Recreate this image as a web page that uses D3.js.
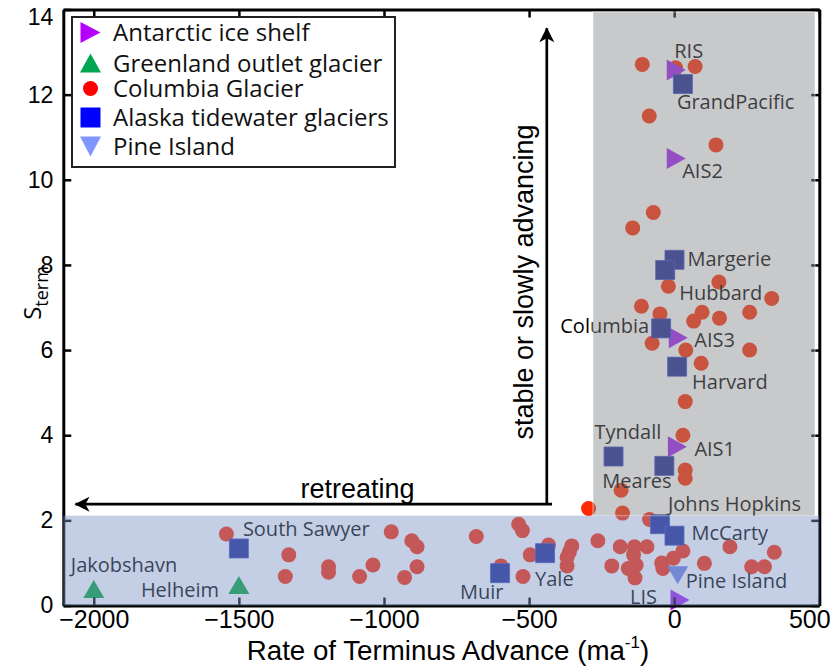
<!DOCTYPE html>
<html>
<head>
<meta charset="utf-8">
<script src="https://cdn.jsdelivr.net/npm/d3@7"></script>
<style>
  body { margin: 0; background: #fff; }
  svg { display: block; }
</style>
</head>
<body>
<svg id="chart" width="833" height="671"></svg>
<script>
"use strict";

//---------------------------- DATA ----------------------------//
// Columbia Glacier (rate of terminus advance m/a, S_term)
const columbiaRate = [-110, 5, 72, -86, 144, -72, -143, 154, -20, 336, -113, 96, 260, -49, 156, 67, -76, 40, 260, 93,
  38, 30, 38, 38, -183, -178, -85, -295, -536, -523, -682, -263, -186, -137, -94, -353, -361, -369, -369, -433,
  -496, 30, 192, 345, -140, -3, -43, 104, -215, -158, -131, -39, 267, 311, -597, -521, -135, -1543, -1328, -1340,
  -1191, -1191, -1084, -1038, -975, -904, -886, -886, -929];
const columbiaS = [12.71, 12.63, 12.66, 11.5, 10.82, 9.23, 8.87, 7.6, 7.5, 7.21, 7.03, 6.89, 6.89, 6.85, 6.75, 6.68, 6.16, 6.0, 6.0, 5.69,
  4.79, 4.0, 3.18, 2.99, 2.71, 2.17, 2.02, 2.28, 1.91, 1.76, 1.62, 1.52, 1.38, 1.38, 1.38, 1.40, 1.26, 1.13, 0.93, 1.42,
  1.19, 1.28, 1.38, 1.25, 1.19, 1.11, 1.0, 0.99, 0.93, 0.87, 0.95, 0.87, 0.91, 0.91, 0.93, 0.68, 0.65, 1.68, 1.19, 0.68,
  0.91, 0.78, 0.68, 0.95, 1.73, 1.52, 1.38, 0.91, 0.66];

const alaskaNames = ["GrandPacific", "Margerie", "Hubbard", "Columbia", "Harvard", "Tyndall", "Meares",
  "Johns Hopkins", "McCarty", "Yale", "Muir", "South Sawyer"];
const alaskaRate = [30, 1, -31, -45, 10, -209, -34, -49, 1, -445, -600, -1500];
const alaskaS = [12.25, 8.12, 7.88, 6.51, 5.61, 3.5, 3.28, 1.91, 1.64, 1.23, 0.76, 1.34];

const antarcticNames = ["RIS", "AIS2", "AIS3", "AIS1", "LIS"];
const antarcticRate = [7, 7, 14, 11, 20];
const antarcticS = [12.58, 10.5, 6.29, 3.73, 0.13];

const greenlandNames = ["Jakobshavn", "Helheim"];
const greenlandRate = [-2000, -1500];
const greenlandS = [0.39, 0.48];

const pineNames = ["Pine Island"];
const pineRate = [12];
const pineS = [0.71];

const legendLabels = ["Antarctic ice shelf", "Greenland outlet glacier", "Columbia Glacier",
  "Alaska tidewater glaciers", "Pine Island"];

const xTicks = [-2000, -1500, -1000, -500, 0, 500];
const yTicks = [0, 2, 4, 6, 8, 10, 12, 14];

// shaded zones (data units)
const stableZoneRate = [-280, 485];
const stableZoneS = [2.11, 13.94];
const slowZoneRate = [-2105, 500];
const slowZoneS = [0, 2.11];

// annotation arrows (data units): [x1, y1, x2(tip), y2(tip)]
const retreatArrow = [-421, 2.38, -2063, 2.38];
const stableArrow = [-439, 2.38, -439, 13.56];

//--------------------------- LAYOUT ---------------------------//
const svg = d3.select("#chart");
const mLeft = 63.3, mRight = 819.3, mTop = 9.5, mBottom = 605.5;

const x = d3.scaleLinear().domain([-2105, 500]).range([mLeft, mRight]);
const y = d3.scaleLinear().domain([0, 14]).range([mBottom, mTop]);

const col = {
  antarctic: "#a020f0",
  antarcticLegend: "#b400ff",
  greenland: "#00a53c",
  greenlandLegend: "#00a651",
  columbia: "#ff2800",
  columbiaLegend: "#ff0000",
  alaska: "#1a2794",
  alaskaLegend: "#0000ff",
  pine: "#6e82e6",
  pineLegend: "#8096ff"
};
const shadeOpacity = 0.45;

// label offsets from marker centre, px: [dx, baseline dy, anchor]
const labelOffsets = {
  "RIS": [-2, -12, "start"],
  "GrandPacific": [-6, 25, "start"],
  "AIS2": [6, 19, "start"],
  "Margerie": [13, 6, "start"],
  "Hubbard": [14, 30, "start"],
  "Columbia": [-12, 5, "end"],
  "AIS3": [16, 9, "start"],
  "Harvard": [15, 22, "start"],
  "Tyndall": [-19, -18, "start"],
  "AIS1": [17, 9, "start"],
  "Meares": [-62, 22, "start"],
  "Johns Hopkins": [8, -13, "start"],
  "McCarty": [17, 4, "start"],
  "Pine Island": [8, 13, "start"],
  "LIS": [-50, 4, "start"],
  "Yale": [-10, 33, "start"],
  "Muir": [-40, 26, "start"],
  "South Sawyer": [4, -12, "start"],
  "Jakobshavn": [-23, -17, "start"],
  "Helheim": [-98, 12, "start"]
};

// triangle path centred on its bounding box
const tri = (dir, w, h) => {
  const a = w / 2, b = h / 2;
  if (dir === "right") return `M${-a},${-b}L${a},0L${-a},${b}Z`;
  if (dir === "up") return `M${-a},${b}L0,${-b}L${a},${b}Z`;
  return `M${-a},${-b}L${a},${-b}L0,${b}Z`;
};
const sq = s => `M${-s / 2},${-s / 2}h${s}v${s}h${-s}Z`;

//--------------------------- MARKERS --------------------------//
const marks = svg.append("g");

marks.selectAll("circle.col")
  .data(d3.range(columbiaRate.length))
  .join("circle")
  .attr("class", "col")
  .attr("cx", i => x(columbiaRate[i]))
  .attr("cy", i => y(columbiaS[i]))
  .attr("r", 7.5)
  .attr("fill", col.columbia);

marks.selectAll("path.ant")
  .data(d3.range(antarcticRate.length))
  .join("path")
  .attr("class", "ant")
  .attr("transform", i => `translate(${x(antarcticRate[i])},${y(antarcticS[i])})`)
  .attr("d", tri("right", 19, 21))
  .attr("fill", col.antarctic);

marks.selectAll("path.ak")
  .data(d3.range(alaskaRate.length))
  .join("path")
  .attr("class", "ak")
  .attr("transform", i => `translate(${x(alaskaRate[i])},${y(alaskaS[i])})`)
  .attr("d", sq(19))
  .attr("fill", col.alaska)
  .attr("stroke", "#3845c8")
  .attr("stroke-width", 0.8);

marks.selectAll("path.gr")
  .data(d3.range(greenlandRate.length))
  .join("path")
  .attr("class", "gr")
  .attr("transform", i => `translate(${x(greenlandRate[i])},${y(greenlandS[i])})`)
  .attr("d", tri("up", 21, 18))
  .attr("fill", col.greenland);

marks.selectAll("path.pi")
  .data(d3.range(pineRate.length))
  .join("path")
  .attr("class", "pi")
  .attr("transform", i => `translate(${x(pineRate[i])},${y(pineS[i])})`)
  .attr("d", tri("down", 21, 18))
  .attr("fill", col.pine);

//---------------------------- LABELS --------------------------//
const named = [];
antarcticNames.forEach((n, i) => named.push([n, antarcticRate[i], antarcticS[i]]));
alaskaNames.forEach((n, i) => named.push([n, alaskaRate[i], alaskaS[i]]));
greenlandNames.forEach((n, i) => named.push([n, greenlandRate[i], greenlandS[i]]));
pineNames.forEach((n, i) => named.push([n, pineRate[i], pineS[i]]));

const labelG = svg.append("g")
  .style("font-family", "'Open Sans', sans-serif")
  .style("font-size", "20px");

labelG.selectAll("text")
  .data(named)
  .join("text")
  .attr("x", d => x(d[1]) + labelOffsets[d[0]][0])
  .attr("y", d => y(d[2]) + labelOffsets[d[0]][1])
  .attr("text-anchor", d => labelOffsets[d[0]][2])
  .attr("fill", "#000")
  .text(d => d[0]);

//---------------------------- AXES ----------------------------//
const axisStyle = g => {
  g.select(".domain").attr("stroke", "#000").attr("stroke-width", 3);
  g.selectAll(".tick line").attr("stroke", "#000").attr("stroke-width", 2.5);
};

const xAxisG = svg.append("g")
  .attr("transform", `translate(0,${mBottom})`)
  .call(d3.axisBottom(x).tickValues(xTicks).tickSizeInner(-8).tickSizeOuter(0).tickPadding(5)
    .tickFormat(d => d < 0 ? "\u2212" + Math.abs(d) : d))
  .call(axisStyle);
xAxisG.selectAll(".tick text")
  .style("font-family", "'Liberation Sans', Arial, sans-serif")
  .style("font-size", "25px")
  .attr("fill", "#000");
xAxisG.selectAll(".tick").filter(d => d === 500).select("text").attr("dx", -10);

svg.append("g")
  .attr("transform", `translate(0,${mTop})`)
  .call(d3.axisTop(x).tickValues(xTicks).tickSizeInner(-8).tickSizeOuter(0).tickFormat(""))
  .call(axisStyle);

const yAxisG = svg.append("g")
  .attr("transform", `translate(${mLeft},0)`)
  .call(d3.axisLeft(y).tickValues(yTicks).tickSizeInner(-8).tickSizeOuter(0).tickPadding(10))
  .call(axisStyle);
yAxisG.selectAll(".tick text")
  .style("font-family", "'Liberation Sans', Arial, sans-serif")
  .style("font-size", "23px")
  .attr("fill", "#000");
// top label sits a little lower so that it stays inside the figure
yAxisG.selectAll(".tick").filter(d => d === 14).select("text").attr("dy", "0.65em");

svg.append("g")
  .attr("transform", `translate(${mRight},0)`)
  .call(d3.axisRight(y).tickValues(yTicks).tickSizeInner(-8).tickSizeOuter(0).tickFormat(""))
  .call(axisStyle);

//--------------------------- OVERLAYS -------------------------//
svg.append("rect")
  .attr("x", x(stableZoneRate[0]))
  .attr("y", y(stableZoneS[1]))
  .attr("width", x(stableZoneRate[1]) - x(stableZoneRate[0]))
  .attr("height", y(stableZoneS[0]) - y(stableZoneS[1]))
  .attr("fill", "rgb(133,135,139)")
  .attr("fill-opacity", shadeOpacity)
  .attr("stroke", "#fff")
  .attr("stroke-opacity", 0.35)
  .attr("stroke-width", 1.5);

svg.append("rect")
  .attr("x", x(slowZoneRate[0]))
  .attr("y", y(slowZoneS[1]))
  .attr("width", x(slowZoneRate[1]) - x(slowZoneRate[0]))
  .attr("height", y(slowZoneS[0]) - y(slowZoneS[1]))
  .attr("fill", "rgb(124,146,195)")
  .attr("fill-opacity", shadeOpacity);

//-------------------------- ANNOTATION ------------------------//
const drawArrow = a => {
  const x1 = x(a[0]), y1 = y(a[1]), x2 = x(a[2]), y2 = y(a[3]);
  const ang = Math.atan2(y2 - y1, x2 - x1) * 180 / Math.PI;
  svg.append("line")
    .attr("x1", x1).attr("y1", y1).attr("x2", x2).attr("y2", y2)
    .attr("stroke", "#000").attr("stroke-width", 2.7);
  // concave arrow head pointing along +x, rotated into place
  svg.append("path")
    .attr("transform", `translate(${x2},${y2}) rotate(${ang})`)
    .attr("d", "M1,0L-14,-7.5L-10,0L-14,7.5Z")
    .attr("fill", "#000");
};
drawArrow(retreatArrow);
drawArrow(stableArrow);

svg.append("text")
  .attr("x", x(-1091))
  .attr("y", y(2.53))
  .attr("text-anchor", "middle")
  .style("font-family", "'Liberation Sans', Arial, sans-serif")
  .style("font-size", "27px")
  .text("retreating");

svg.append("text")
  .attr("transform", `translate(${x(-486)},${y(7.6)}) rotate(-90)`)
  .attr("text-anchor", "middle")
  .style("font-family", "'Liberation Sans', Arial, sans-serif")
  .style("font-size", "27px")
  .text("stable or slowly advancing");

//-------------------------- AXIS TITLES -----------------------//
const xt = svg.append("text")
  .attr("x", 448)
  .attr("y", 660)
  .attr("text-anchor", "middle")
  .style("font-family", "'Liberation Sans', Arial, sans-serif")
  .style("font-size", "27.7px");
xt.append("tspan").text("Rate of Terminus Advance (ma");
xt.append("tspan").attr("dy", -12).style("font-size", "17px").text("-1");
xt.append("tspan").attr("dy", 12).text(")");

const yt = svg.append("text")
  .attr("transform", "translate(41,293) rotate(-90)")
  .attr("text-anchor", "middle")
  .style("font-family", "'Open Sans', sans-serif")
  .style("font-size", "24px");
yt.append("tspan").text("S");
yt.append("tspan").attr("dy", 7).style("font-size", "18px").text("term");

//---------------------------- LEGEND --------------------------//
const leg = svg.append("g").attr("transform", "translate(72,17)");
leg.append("rect")
  .attr("width", 323).attr("height", 150)
  .attr("fill", "#fff").attr("stroke", "#222").attr("stroke-width", 2);

const legendMarks = [
  tri("right", 20, 21),
  tri("up", 21, 19),
  null,
  sq(20),
  tri("down", 21, 20)
];
const legendColors = [col.antarcticLegend, col.greenlandLegend, col.columbiaLegend, col.alaskaLegend, col.pineLegend];
const rowY = [15.5, 46, 71.5, 100.5, 129.5];

legendLabels.forEach((lab, i) => {
  const g = leg.append("g").attr("transform", `translate(18.5,${rowY[i]})`);
  if (legendMarks[i]) g.append("path").attr("d", legendMarks[i]).attr("fill", legendColors[i]);
  else g.append("circle").attr("r", 7.5).attr("fill", legendColors[i]);
  g.append("text")
    .attr("x", 22.5)
    .attr("y", 8.5)
    .style("font-family", "'Open Sans', sans-serif")
    .style("font-size", "24px")
    .attr("fill", "#111")
    .text(lab);
});
</script>
</body>
</html>
